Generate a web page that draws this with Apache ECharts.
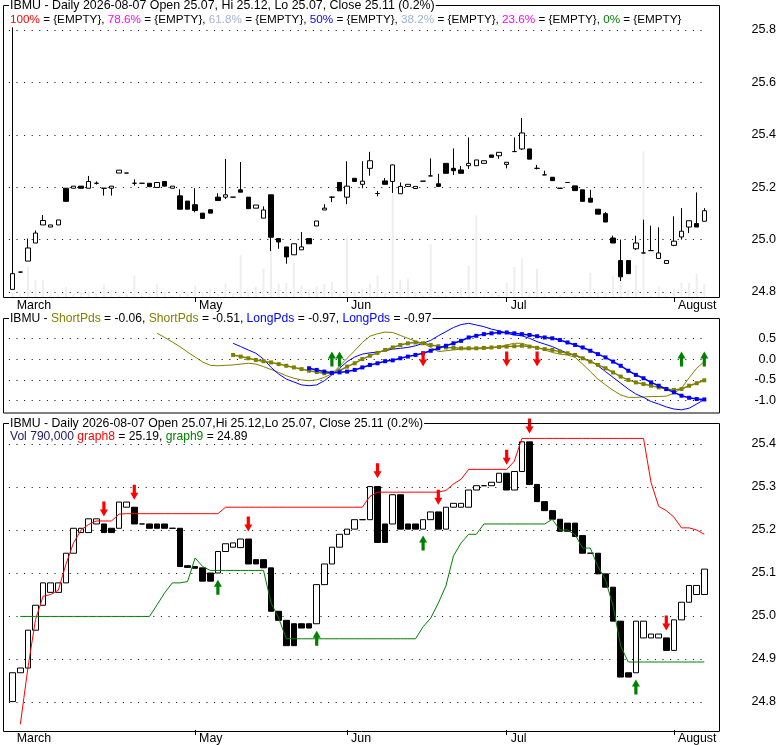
<!DOCTYPE html>
<html>
<head>
<meta charset="utf-8">
<script src="https://cdn.jsdelivr.net/npm/echarts/dist/echarts.min.js"></script>
<style>
  html, body { margin: 0; padding: 0; background: #fff; }
  #chart { width: 780px; height: 745px; }
</style>
</head>
<body>
<div id="chart"></div>
<script>
// trading days shown on the chart
const dates = [
  '03-27','03-30','03-31',
  '04-01','04-02','04-06','04-07','04-08','04-09','04-10','04-13','04-14','04-15','04-16','04-17',
  '04-20','04-21','04-22','04-23','04-24','04-27','04-28','04-29','04-30',
  '05-01','05-04','05-05','05-06','05-07','05-08','05-11','05-12','05-13','05-14','05-15',
  '05-18','05-19','05-20','05-21','05-22','05-26','05-27','05-28','05-29',
  '06-01','06-02','06-03','06-04','06-05','06-08','06-09','06-10','06-11','06-12',
  '06-15','06-16','06-17','06-18','06-22','06-23','06-24','06-25','06-26','06-29','06-30',
  '07-01','07-02','07-06','07-07','07-08','07-09','07-10','07-13','07-14','07-15','07-16','07-17',
  '07-20','07-21','07-22','07-23','07-24','07-27','07-28','07-29','07-30','07-31',
  '08-03','08-04','08-05','08-06','08-07'
];
const monthIndex = [0, 24, 44, 65, 87];
const monthLabels = ['March', 'May', 'Jun', 'Jul', 'August'];

// upper panel: daily OHLC
const topOpen = [24.810,24.876,24.918,24.987,25.056,25.048,25.056,25.196,25.196,25.204,
  25.196,25.215,25.196,25.196,25.254,25.254,25.215,25.215,25.215,25.199,
  25.222,25.196,25.167,25.147,25.133,25.101,25.114,25.162,25.162,25.162,
  25.190,25.162,25.120,25.082,25.171,25.004,24.972,24.942,24.961,25.004,
  25.052,25.113,25.162,25.218,25.162,25.234,25.211,25.272,25.176,25.224,
  25.222,25.175,25.203,25.195,25.223,25.243,25.213,25.291,25.272,25.266,
  25.282,25.282,25.291,25.323,25.320,25.287,25.336,25.346,25.346,25.272,
  25.247,25.238,25.196,25.218,25.205,25.190,25.158,25.116,25.099,25.006,
  24.920,24.920,24.965,24.949,24.958,24.928,24.909,24.978,25.010,25.048,
  25.061,25.070];
const topClose = [24.870,24.876,24.968,25.025,25.073,25.056,25.075,25.146,25.204,25.196,
  25.222,25.215,25.196,25.204,25.265,25.254,25.215,25.215,25.202,25.218,
  25.204,25.204,25.116,25.116,25.111,25.081,25.101,25.149,25.171,25.162,
  25.181,25.118,25.132,25.113,25.009,24.991,24.934,24.984,24.972,24.984,
  25.071,25.120,25.162,25.186,25.204,25.222,25.223,25.301,25.176,25.211,
  25.285,25.203,25.211,25.203,25.223,25.243,25.203,25.253,25.263,25.253,
  25.291,25.304,25.301,25.314,25.333,25.295,25.336,25.407,25.307,25.272,
  25.247,25.225,25.196,25.218,25.187,25.146,25.143,25.097,25.067,24.987,
  24.858,24.870,24.987,24.949,24.958,24.949,24.920,24.994,25.032,25.072,
  25.048,25.110];
const topLow = [24.810,24.874,24.918,24.987,25.056,25.048,25.056,25.146,25.196,25.196,
  25.196,25.210,25.168,25.168,25.254,25.254,25.206,25.215,25.202,25.199,
  25.204,25.196,25.116,25.116,25.104,25.081,25.101,25.149,25.155,25.162,
  25.181,25.118,25.120,25.082,24.956,24.965,24.908,24.942,24.961,24.984,
  25.052,25.113,25.143,25.186,25.135,25.222,25.196,25.244,25.165,25.211,
  25.178,25.175,25.203,25.195,25.223,25.243,25.203,25.253,25.247,25.253,
  25.270,25.282,25.291,25.314,25.308,25.272,25.334,25.342,25.307,25.268,
  25.247,25.225,25.196,25.218,25.187,25.146,25.143,25.097,25.067,24.987,
  24.842,24.870,24.960,24.949,24.958,24.928,24.909,24.975,25.000,25.025,
  25.048,25.070];
const topHigh = [25.810,24.878,25.004,25.035,25.094,25.056,25.075,25.196,25.204,25.204,
  25.243,25.222,25.196,25.204,25.265,25.254,25.230,25.215,25.215,25.218,
  25.222,25.204,25.192,25.147,25.196,25.101,25.114,25.177,25.308,25.162,
  25.296,25.162,25.132,25.127,25.171,25.004,24.972,24.984,25.029,25.004,
  25.071,25.135,25.165,25.218,25.299,25.234,25.299,25.335,25.185,25.235,
  25.285,25.218,25.211,25.203,25.223,25.310,25.251,25.291,25.348,25.281,
  25.390,25.304,25.301,25.323,25.333,25.295,25.390,25.464,25.346,25.285,
  25.263,25.238,25.196,25.218,25.205,25.190,25.190,25.116,25.105,25.015,
  25.000,24.920,25.015,25.076,25.053,25.047,24.920,25.089,25.120,25.072,
  25.180,25.120];
// volume, thousands of shares
const volume = [300,200,1780,990,990,360,200,590,160,300,
  300,200,750,430,100,160,1280,200,200,750,
  300,100,160,300,690,300,490,200,790,200,
  2470,300,590,1680,2770,790,830,2030,690,450,
  630,790,890,200,3560,300,490,790,1280,200,
  6120,990,1090,300,100,3120,160,100,200,550,
  1880,4840,100,200,200,830,1780,2270,240,1680,
  200,100,100,60,100,300,1420,300,300,1220,
  1380,400,1880,8630,100,630,60,490,830,830,
  1380,790];

// middle panel
const shortPdsFast = Array(19).fill(null).concat([
  0.62,0.52,0.41,0.30,0.17,0.05,-0.07,-0.15,-0.16,-0.15,
  -0.14,-0.12,-0.10,-0.12,-0.18,-0.25,-0.32,-0.40,-0.46,-0.50,
  -0.52,-0.50,-0.44,-0.35,-0.17,0.02,0.20,0.40,0.55,0.61,
  0.65,0.64,0.57,0.50,0.43,0.38,0.28,0.18,0.20,0.22,
  0.24,0.24,0.25,0.25,0.27,0.30,0.34,0.38,0.38,0.32,
  0.28,0.22,0.16,0.12,0.10,0.04,-0.12,-0.30,-0.48,-0.62,
  -0.75,-0.86,-0.92,-0.92,-0.91,-0.90,-0.90,-0.89,-0.82,-0.70,
  -0.45,-0.22,-0.06]);
const shortPdsSlow = Array(29).fill(null).concat([
  0.10,0.06,0.02,-0.02,-0.05,-0.08,-0.12,-0.16,-0.20,-0.24,
  -0.28,-0.31,-0.34,-0.34,-0.28,-0.18,-0.10,0.00,0.08,0.15,
  0.22,0.28,0.34,0.38,0.40,0.38,0.34,0.31,0.28,0.27,
  0.26,0.26,0.26,0.27,0.28,0.29,0.30,0.31,0.32,0.30,
  0.27,0.24,0.22,0.18,0.14,0.10,0.02,-0.06,-0.14,-0.22,
  -0.32,-0.42,-0.50,-0.56,-0.60,-0.64,-0.68,-0.72,-0.74,-0.72,
  -0.64,-0.58,-0.51]);
const longPdsFast = Array(29).fill(null).concat([
  0.38,0.30,0.22,0.14,0.00,-0.20,-0.36,-0.48,-0.55,-0.62,
  -0.64,-0.62,-0.52,-0.38,-0.22,-0.06,0.05,0.12,0.15,0.17,
  0.20,0.24,0.26,0.28,0.32,0.38,0.45,0.56,0.66,0.76,
  0.83,0.86,0.82,0.78,0.72,0.68,0.62,0.58,0.56,0.50,
  0.42,0.36,0.30,0.22,0.14,0.08,0.02,-0.04,-0.16,-0.30,
  -0.44,-0.58,-0.72,-0.84,-0.92,-1.02,-1.08,-1.15,-1.20,-1.22,
  -1.18,-1.08,-0.97]);
const longPdsSlow = Array(39).fill(null).concat([
  -0.22,-0.26,-0.30,-0.33,-0.32,-0.30,-0.26,-0.20,-0.14,-0.10,
  -0.05,-0.03,0.02,0.06,0.10,0.14,0.20,0.26,0.32,0.38,
  0.44,0.52,0.56,0.60,0.62,0.64,0.64,0.62,0.60,0.58,
  0.55,0.52,0.50,0.46,0.40,0.34,0.28,0.20,0.12,0.04,
  -0.06,-0.16,-0.28,-0.38,-0.46,-0.56,-0.64,-0.72,-0.80,-0.88,
  -0.93,-0.96,-0.97]);
const midUp = [[42, 0.0], [43, 0.0], [88, 0.0], [91, 0.0]];
const midDown = [[54, 0.0], [65, 0.0], [69, 0.0]];

// lower panel: bodies, graph8 / graph9
const lowerOpen = [24.801,24.868,24.879,24.967,25.025,25.055,25.055,25.077,25.146,25.194,
  25.194,25.214,25.214,25.204,25.204,25.253,25.253,25.214,25.214,25.214,
  25.214,25.204,25.204,25.117,25.115,25.112,25.100,25.100,25.150,25.160,
  25.159,25.179,25.131,25.131,25.112,25.011,24.990,24.982,24.982,24.982,
  24.982,25.073,25.121,25.160,25.190,25.202,25.224,25.224,25.301,25.214,
  25.214,25.282,25.214,25.214,25.202,25.224,25.242,25.202,25.253,25.253,
  25.253,25.293,25.303,25.303,25.311,25.332,25.293,25.336,25.405,25.306,
  25.266,25.245,25.225,25.216,25.216,25.187,25.146,25.146,25.098,25.067,
  24.988,24.868,24.868,24.949,24.949,24.949,24.949,24.920,24.991,25.032,
  25.050,25.050];
const lowerClose = [24.868,24.879,24.967,25.025,25.077,25.077,25.077,25.146,25.204,25.204,
  25.226,25.226,25.194,25.194,25.265,25.265,25.214,25.214,25.204,25.204,
  25.204,25.204,25.115,25.113,25.111,25.081,25.081,25.150,25.168,25.170,
  25.179,25.121,25.121,25.112,25.011,24.990,24.931,24.931,24.972,24.972,
  25.073,25.121,25.160,25.190,25.202,25.224,25.224,25.301,25.171,25.171,
  25.282,25.202,25.202,25.202,25.224,25.242,25.202,25.253,25.262,25.262,
  25.293,25.303,25.303,25.311,25.332,25.293,25.336,25.405,25.306,25.266,
  25.245,25.225,25.197,25.197,25.185,25.146,25.146,25.098,25.067,24.988,
  24.858,24.858,24.988,24.988,24.958,24.958,24.920,24.991,25.032,25.071,
  25.071,25.109];
const graph8 = [null,24.748,24.879,24.992,25.046,25.050,25.060,25.120,25.170,25.200,
  25.213,25.221,25.221,25.221,25.237,25.238,25.238,25.238,25.238,25.238,
  25.238,25.238,25.238,25.238,25.238,25.238,25.238,25.238,25.253,25.253,
  25.253,25.253,25.253,25.253,25.253,25.253,25.253,25.253,25.253,25.253,
  25.253,25.253,25.253,25.253,25.253,25.253,25.253,25.278,25.288,25.288,
  25.288,25.288,25.288,25.288,25.288,25.288,25.288,25.292,25.307,25.318,
  25.341,25.341,25.341,25.341,25.341,25.341,25.360,25.413,25.413,25.413,
  25.413,25.413,25.413,25.413,25.413,25.413,25.413,25.413,25.413,25.413,
  25.413,25.413,25.413,25.413,25.310,25.255,25.245,25.230,25.205,25.205,
  25.200,25.190];
const graph9 = [null,24.999,24.999,24.999,24.999,24.999,24.999,24.999,24.999,24.999,
  24.999,24.999,24.999,24.999,24.999,24.999,24.999,24.999,24.999,25.026,
  25.054,25.077,25.077,25.080,25.135,25.115,25.106,25.106,25.106,25.106,
  25.106,25.106,25.106,25.106,25.030,24.995,24.947,24.947,24.947,24.947,
  24.947,24.947,24.947,24.947,24.947,24.947,24.947,24.947,24.947,24.947,
  24.947,24.947,24.947,24.947,24.975,24.995,25.030,25.070,25.140,25.170,
  25.190,25.190,25.214,25.214,25.214,25.214,25.214,25.214,25.214,25.214,
  25.214,25.225,25.200,25.200,25.189,25.158,25.158,25.115,25.084,25.023,
  24.930,24.893,24.893,24.893,24.893,24.893,24.893,24.893,24.893,24.893,
  24.893,24.893];
const lowUp = [[27, 25.067], [40, 24.948], [54, 25.170], [82, 24.835]];
const lowDown = [[12, 25.249], [16, 25.288], [31, 25.214], [48, 25.338], [56, 25.276],
  [65, 25.369], [68, 25.442], [86, 24.984]];

const FONT = '"Liberation Sans", Arial, sans-serif';
const UP_ARROW = 'path://M5,0 L10,7 L7,7 L7,15 L3,15 L3,7 L0,7 Z';
const DOWN_ARROW = 'path://M3,0 L7,0 L7,8 L10,8 L5,15 L0,8 L3,8 Z';

const topCandles = topOpen.map((o, i) => [o, topClose[i], topLow[i], topHigh[i]]);
const lowerCandles = lowerOpen.map((o, i) => [o, lowerClose[i],
  Math.min(o, lowerClose[i]), Math.max(o, lowerClose[i])]);

const plotLeft = 8.9, plotWidth = 699.2;

function priceAxis(idx, min, max, interval) {
  return {
    type: 'value', gridIndex: idx, position: 'right', min: min, max: max, interval: interval,
    axisLine: { show: false }, axisTick: { show: false },
    axisLabel: { align: 'right', margin: 68, color: '#000', fontSize: 12.6, fontFamily: FONT,
      formatter: v => v.toFixed(1) },
    splitLine: { show: true, lineStyle: { color: '#000', width: 1, type: [1, 6.6] } }
  };
}
function hiddenAxis(idx, max) {
  return { type: 'value', gridIndex: idx, min: 0, max: max, show: false, splitLine: { show: false } };
}
function catAxis(idx, withLabels) {
  return {
    type: 'category', gridIndex: idx, data: dates, boundaryGap: true,
    axisLine: { show: false },
    axisTick: withLabels ? { show: true, alignWithLabel: true, length: 5,
      interval: i => i > 0 && monthIndex.includes(i), lineStyle: { color: '#000' } } : { show: false },
    axisLabel: withLabels ? { show: true, interval: i => monthIndex.includes(i),
      formatter: (v, i) => monthLabels[monthIndex.indexOf(i)] || '',
      align: 'left', padding: [0, 0, 0, 4], margin: 3, color: '#000', fontSize: 12.4, fontFamily: FONT }
      : { show: false },
    splitLine: { show: false }
  };
}

const grid = (top, height) => ({ left: plotLeft, width: plotWidth, top: top, height: height });
const f = size => size + 'px ' + FONT;

const chart = echarts.init(document.getElementById('chart'));
chart.setOption({
  animation: false,
  backgroundColor: '#fff',
  grid: [
    grid(30, 262),        // 0 upper prices
    grid(5, 292),         // 1 upper volume + dates
    grid(338.3, 62.4),    // 2 middle
    grid(444, 258),       // 3 lower prices
    grid(423.5, 308)      // 4 lower dates
  ],
  xAxis: [catAxis(0, false), catAxis(1, true), catAxis(2, false), catAxis(3, false), catAxis(4, true)],
  yAxis: [
    priceAxis(0, 24.8, 25.8, 0.2),
    hiddenAxis(1, 17300),
    priceAxis(2, -1, 0.5, 0.5),
    priceAxis(3, 24.8, 25.4, 0.1),
    hiddenAxis(4, 1)
  ],
  series: [
    { type: 'bar', xAxisIndex: 1, yAxisIndex: 1, data: volume, barWidth: 2,
      itemStyle: { color: '#eeeeee' }, z: 1 },
    { type: 'candlestick', xAxisIndex: 0, yAxisIndex: 0, data: topCandles, barWidth: 5, clip: false,
      itemStyle: { color: '#fff', color0: '#000', borderColor: '#000', borderColor0: '#000', borderWidth: 1 },
      z: 3 },
    { type: 'line', xAxisIndex: 2, yAxisIndex: 2, data: shortPdsFast, showSymbol: false, clip: false,
      lineStyle: { color: '#808000', width: 1 }, z: 3 },
    { type: 'line', xAxisIndex: 2, yAxisIndex: 2, data: longPdsFast, showSymbol: false, clip: false,
      lineStyle: { color: '#0000ff', width: 1 }, z: 3 },
    { type: 'line', xAxisIndex: 2, yAxisIndex: 2, data: shortPdsSlow, symbol: 'rect', symbolSize: 4,
      showSymbol: true, clip: false, lineStyle: { color: '#808000', width: 1.5 },
      itemStyle: { color: '#808000' }, z: 4 },
    { type: 'line', xAxisIndex: 2, yAxisIndex: 2, data: longPdsSlow, symbol: 'rect', symbolSize: 4,
      showSymbol: true, clip: false, lineStyle: { color: '#0000ff', width: 1.5 },
      itemStyle: { color: '#0000ff' }, z: 4 },
    { type: 'scatter', xAxisIndex: 2, yAxisIndex: 2, data: midUp, symbol: UP_ARROW, symbolSize: [8, 15],
      clip: false, itemStyle: { color: '#008000', opacity: 1 }, z: 6 },
    { type: 'scatter', xAxisIndex: 2, yAxisIndex: 2, data: midDown, symbol: DOWN_ARROW, symbolSize: [8, 15],
      clip: false, itemStyle: { color: '#ff0000', opacity: 1 }, z: 6 },
    { type: 'candlestick', xAxisIndex: 3, yAxisIndex: 3, data: lowerCandles, barWidth: 6, clip: false,
      itemStyle: { color: '#fff', color0: '#000', borderColor: '#000', borderColor0: '#000', borderWidth: 1 },
      z: 3 },
    { type: 'line', xAxisIndex: 3, yAxisIndex: 3, data: graph8, showSymbol: false, clip: false,
      lineStyle: { color: '#ff0000', width: 1 }, z: 4 },
    { type: 'line', xAxisIndex: 3, yAxisIndex: 3, data: graph9, showSymbol: false, clip: false,
      lineStyle: { color: '#008000', width: 1 }, z: 4 },
    { type: 'scatter', xAxisIndex: 3, yAxisIndex: 3, data: lowUp, symbol: UP_ARROW, symbolSize: [8, 15],
      clip: false, itemStyle: { color: '#008000', opacity: 1 }, z: 6 },
    { type: 'scatter', xAxisIndex: 3, yAxisIndex: 3, data: lowDown, symbol: DOWN_ARROW, symbolSize: [8, 15],
      clip: false, itemStyle: { color: '#ff0000', opacity: 1 }, z: 6 }
  ],
  graphic: [
    // panel frames
    { type: 'rect', silent: true, z: 50, shape: { x: 3.5, y: 5.5, width: 716, height: 292 },
      style: { fill: null, stroke: '#000', lineWidth: 1 } },
    { type: 'rect', silent: true, z: 50, shape: { x: 3.5, y: 318.5, width: 716, height: 94.5 },
      style: { fill: null, stroke: '#000', lineWidth: 1 } },
    { type: 'rect', silent: true, z: 50, shape: { x: 3.5, y: 423.5, width: 716, height: 308 },
      style: { fill: null, stroke: '#000', lineWidth: 1 } },
    // headers
    { type: 'text', z: 60, left: 9, top: 0, style: {
      text: 'IBMU - Daily 2026-08-07 Open 25.07, Hi 25.12, Lo 25.07, Close 25.11 (0.2%)',
      font: f(12.4), fill: '#000', backgroundColor: '#fff', padding: [0, 1] } },
    { type: 'text', z: 60, left: 10, top: 14, style: {
      text: '{r|100%} = {EMPTY}, {m|78.6%} = {EMPTY}, {s|61.8%} = {EMPTY}, {b|50%} = {EMPTY}, ' +
            '{s|38.2%} = {EMPTY}, {m|23.6%} = {EMPTY}, {g|0%} = {EMPTY}',
      font: f(11.7), fill: '#000',
      rich: { r: { fill: '#ff0000', font: f(11.7) }, m: { fill: '#ff00ff', font: f(11.7) },
        s: { fill: '#a0b4d6', font: f(11.7) }, b: { fill: '#0000ff', font: f(11.7) },
        g: { fill: '#008000', font: f(11.7) } } } },
    { type: 'text', z: 60, left: 9, top: 313, style: {
      text: 'IBMU - {o|ShortPds} = -0.06, {o|ShortPds} = -0.51, {b|LongPds} = -0.97, {b|LongPds} = -0.97',
      font: f(12.1), fill: '#000', backgroundColor: '#fff', padding: [0, 1],
      rich: { o: { fill: '#808000', font: f(12.1) }, b: { fill: '#0000ff', font: f(12.1) } } } },
    { type: 'text', z: 60, left: 9, top: 418, style: {
      text: 'IBMU - Daily 2026-08-07 Open 25.07,Hi 25.12,Lo 25.07, Close 25.11 (0.2%)',
      font: f(12.25), fill: '#000', backgroundColor: '#fff', padding: [0, 1] } },
    { type: 'text', z: 60, left: 10, top: 431, style: {
      text: '{n|Vol 790,000} {r|graph8} = 25.19, {g|graph9} = 24.89',
      font: f(12.1), fill: '#000', backgroundColor: '#fff',
      rich: { n: { fill: '#1a1a60', font: f(12.1) }, r: { fill: '#ff0000', font: f(12.1) },
        g: { fill: '#008000', font: f(12.1) } } } }
  ]
});
</script>
</body>
</html>
